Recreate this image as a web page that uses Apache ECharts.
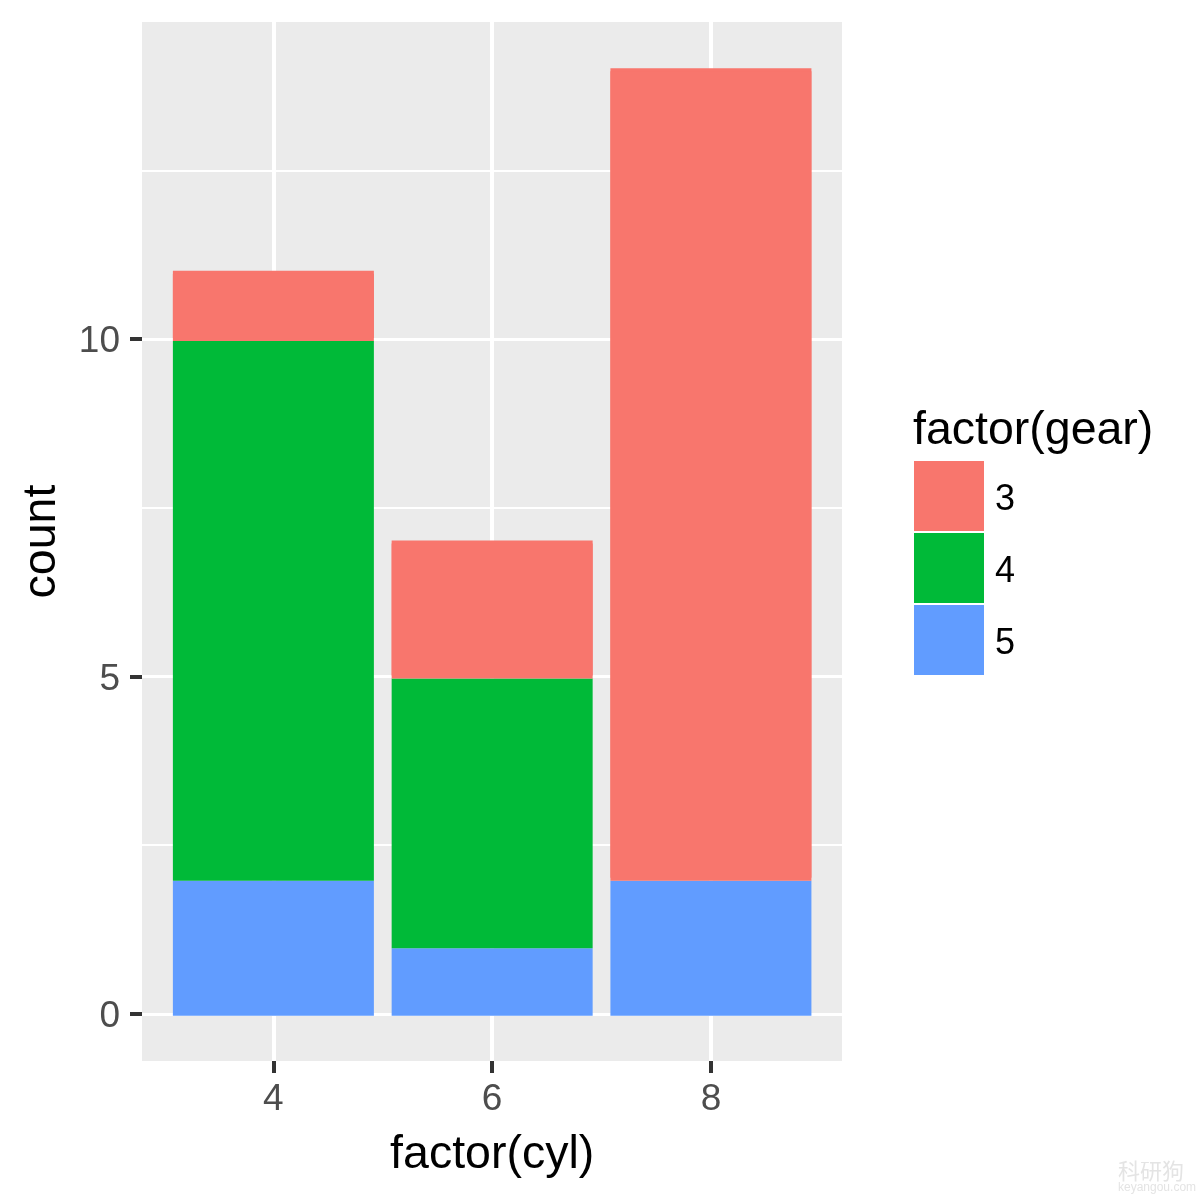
<!DOCTYPE html>
<html>
<head>
<meta charset="utf-8">
<style>html,body{margin:0;padding:0;background:#fff}#main{width:1200px;height:1200px}</style>
<script src="https://cdn.jsdelivr.net/npm/echarts@6/dist/echarts.min.js"></script>
</head>
<body>
<div id="main"></div>
<script>
let cyl = ['4', '6', '8'];
let gearNames = ['3', '4', '5'];
let gear3 = [1, 2, 12];
let gear4 = [8, 4, 0];
let gear5 = [2, 1, 2];
let xMajor = [4, 6, 8];
let yMajor = [0, 5, 10];
let yMinor = [2.5, 7.5, 12.5];

let font = '"Liberation Sans", Arial, sans-serif';
let yMin = -0.7;
let yMax = 14.7;

function barSeries(name, values, color, topBleed){
    return {
        type: 'bar',
        name: name,
        stack: 'gear',
        xAxisIndex: 1,
        yAxisIndex: 1,
        z: 3,
        barWidth: 201,
        // the reference bars have a same colour outline, tops stick out a little past the value
        itemStyle: {color: color, shadowColor: color, shadowBlur: 0, shadowOffsetY: -topBleed},
        data: values
    };
}

// grid 0 is the grey panel, grid 1 sits inside it so the bands get ggplot's 0.6 expansion
let gridLines = [];
for (let v of yMajor) gridLines.push({yAxis: v, lineStyle: {width: 3}});
for (let v of yMinor) gridLines.push({yAxis: v, lineStyle: {width: 2}});
for (let v of xMajor) gridLines.push({xAxis: v, lineStyle: {width: 4}});

let option = {
    animation: false,
    backgroundColor: '#fff',
    textStyle: {fontFamily: font},
    grid: [
        {left: 142, top: 22, width: 700, height: 1039, show: true, backgroundColor: '#EBEBEB', borderWidth: 0, outerBoundsMode: 'none'},
        {left: 164, top: 24, width: 656.3, height: 1039, outerBoundsMode: 'none'}
    ],
    title: [{
        text: 'factor(gear)',
        left: 913,
        top: 408,
        padding: 0,
        textStyle: {fontFamily: font, fontSize: 46.5, fontWeight: 'normal', color: '#000'}
    }, {
        text: '科研狗',
        subtext: 'keyangou.com',
        left: 1118,
        top: 1160,
        padding: 0,
        itemGap: 0,
        textStyle: {fontFamily: '"Noto Sans CJK SC"', fontSize: 22, fontWeight: 'normal', color: '#e4e4e4'},
        subtextStyle: {fontFamily: font, fontSize: 12, color: '#e4e4e4'}
    }],
    legend: {
        orient: 'vertical',
        left: 914,
        top: 461,
        padding: 0,
        itemWidth: 70,
        itemHeight: 70,
        itemGap: 2,
        icon: 'rect',
        selectedMode: false,
        data: gearNames,
        itemStyle: {borderWidth: 0, shadowBlur: 0, shadowOffsetY: 0, shadowColor: 'transparent'},
        formatter: '{a|{name}}',
        textStyle: {
            fontFamily: font, fontSize: 36, color: '#000',
            rich: {a: {fontFamily: font, fontSize: 36, color: '#000', padding: [8, 0, 0, 6]}}
        }
    },
    xAxis: [{
        type: 'value',
        gridIndex: 0,
        min: 2.8,
        max: 9.2,
        show: false
    }, {
        type: 'category',
        gridIndex: 1,
        data: cyl,
        offset: -2,
        name: 'factor(cyl)',
        nameLocation: 'middle',
        nameGap: 71,
        nameTextStyle: {fontFamily: font, fontSize: 46.5, color: '#000'},
        splitLine: {show: false},
        axisLine: {show: false, onZero: false},
        axisTick: {show: true, alignWithLabel: true, length: 12, lineStyle: {color: '#333', width: 4}},
        axisLabel: {margin: 20, fontFamily: font, fontSize: 37, color: '#4d4d4d'}
    }],
    yAxis: [{
        type: 'value',
        gridIndex: 0,
        min: yMin,
        max: yMax,
        name: 'count',
        nameLocation: 'middle',
        nameGap: 76,
        nameTextStyle: {fontFamily: font, fontSize: 46.5, color: '#000'},
        splitLine: {show: false},
        axisLine: {show: false, onZero: false},
        axisTick: {show: true, length: 12, customValues: yMajor, lineStyle: {color: '#333', width: 4}},
        axisLabel: {
            customValues: yMajor, margin: 22, fontFamily: font, fontSize: 37, color: '#4d4d4d',
            formatter: '{a|{value}}',
            rich: {a: {fontFamily: font, fontSize: 37, color: '#4d4d4d', padding: [6, 0, 0, 0]}}
        }
    }, {
        type: 'value',
        gridIndex: 1,
        min: yMin,
        max: yMax,
        show: false
    }],
    series: [
        {
            type: 'line',
            name: 'grid',
            xAxisIndex: 0,
            yAxisIndex: 0,
            z: 1,
            data: [],
            silent: true,
            markLine: {
                z: 1,
                silent: true,
                symbol: 'none',
                animation: false,
                label: {show: false},
                lineStyle: {color: '#fff', type: 'solid'},
                data: gridLines
            }
        },
        barSeries('5', gear5, '#619CFF', 0),
        barSeries('4', gear4, '#00BA38', 0),
        barSeries('3', gear3, '#F8766D', 3)
    ]
};

let chart = echarts.init(document.getElementById('main'));
chart.setOption(option);
</script>
</body>
</html>
